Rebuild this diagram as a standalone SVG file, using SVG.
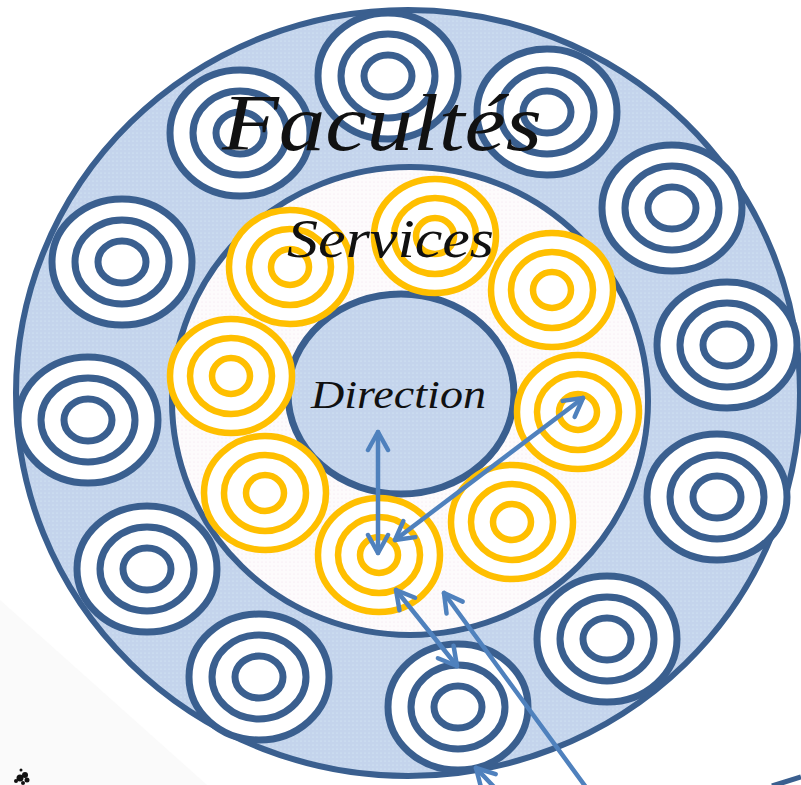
<svg xmlns="http://www.w3.org/2000/svg" xmlns:xlink="http://www.w3.org/1999/xlink" width="801" height="785" viewBox="0 0 801 785">
<defs>
<style>
.band{stroke:#3A5F8F;stroke-width:6}
.nv{fill:none;stroke:#3A5F8F;stroke-width:7}
.nvw{fill:#fff;stroke:#3A5F8F;stroke-width:7}
.yl{fill:none;stroke:#FFBF00;stroke-width:6.5}
.ylw{fill:#fff;stroke:#FFBF00;stroke-width:6.5}
.lbl{font-family:"Liberation Serif","Times New Roman",serif;font-style:italic;fill:#111}
.arr{stroke:#4F81BD;stroke-width:4.5;stroke-linecap:round;fill:none}
</style>
<pattern id="dotsBlue" width="4" height="4" patternUnits="userSpaceOnUse">
<rect width="4" height="4" fill="#C4D4EC"/>
<circle cx="1" cy="1" r="0.6" fill="#DDF0F8"/>
</pattern>
<pattern id="dotsPink" width="4" height="4" patternUnits="userSpaceOnUse">
<rect width="4" height="4" fill="#FDFBFC"/>
<circle cx="2" cy="2" r="0.5" fill="#F1DFEA"/>
</pattern>
<g id="facRings">
<ellipse class="nvw" cx="0" cy="0" rx="70" ry="63"/>
<ellipse class="nv" cx="0" cy="0" rx="47" ry="42"/>
<ellipse class="nv" cx="0" cy="0" rx="24" ry="21"/>
</g>
<g id="srvRings">
<ellipse class="ylw" cx="0" cy="0" rx="61" ry="57"/>
<ellipse class="yl" cx="0" cy="0" rx="41" ry="38"/>
<ellipse class="yl" cx="0" cy="0" rx="19" ry="18"/>
</g>
<marker id="ah" markerUnits="userSpaceOnUse" viewBox="-22 -13 26 26" refX="0" refY="0" markerWidth="26" markerHeight="26" orient="auto-start-reverse">
<path d="M-18,-10 L0,0 L-18,10" fill="none" stroke="#4F81BD" stroke-width="4.5" stroke-linecap="round" stroke-linejoin="round"/>
</marker>
</defs>
<rect width="801" height="785" fill="#fff"/>
<polygon points="0,600 207,785 0,785" fill="#FAFAFA"/>
<g id="facultes-band">
<ellipse class="band" cx="408" cy="393" rx="392" ry="383" fill="url(#dotsBlue)"/>
</g>
<g id="services-band">
<ellipse class="band" cx="410" cy="401" rx="238" ry="234" fill="url(#dotsPink)"/>
</g>
<g id="direction">
<ellipse cx="401" cy="394" rx="113" ry="100" fill="url(#dotsBlue)" stroke="#3A5F8F" stroke-width="7"/>
</g>
<g id="fac-1" transform="translate(388,76)"><use xlink:href="#facRings"/></g>
<g id="fac-2" transform="translate(547,112)"><use xlink:href="#facRings"/></g>
<g id="fac-3" transform="translate(672,208)"><use xlink:href="#facRings"/></g>
<g id="fac-4" transform="translate(727,345)"><use xlink:href="#facRings"/></g>
<g id="fac-5" transform="translate(717,497)"><use xlink:href="#facRings"/></g>
<g id="fac-6" transform="translate(607,639)"><use xlink:href="#facRings"/></g>
<g id="fac-7" transform="translate(458,707)"><use xlink:href="#facRings"/></g>
<g id="fac-8" transform="translate(259,677)"><use xlink:href="#facRings"/></g>
<g id="fac-9" transform="translate(147,569)"><use xlink:href="#facRings"/></g>
<g id="fac-10" transform="translate(88,420)"><use xlink:href="#facRings"/></g>
<g id="fac-11" transform="translate(122,262)"><use xlink:href="#facRings"/></g>
<g id="fac-12" transform="translate(240,133)"><use xlink:href="#facRings"/></g>
<g id="srv-1" transform="translate(435,236)"><use xlink:href="#srvRings"/></g>
<g id="srv-2" transform="translate(290,267)"><use xlink:href="#srvRings"/></g>
<g id="srv-3" transform="translate(552,290)"><use xlink:href="#srvRings"/></g>
<g id="srv-4" transform="translate(231,376)"><use xlink:href="#srvRings"/></g>
<g id="srv-5" transform="translate(578,412)"><use xlink:href="#srvRings"/></g>
<g id="srv-6" transform="translate(265,493)"><use xlink:href="#srvRings"/></g>
<g id="srv-7" transform="translate(379,555)"><use xlink:href="#srvRings"/></g>
<g id="srv-8" transform="translate(512,522)"><use xlink:href="#srvRings"/></g>
<rect x="522" y="765" width="279" height="20" fill="#fff"/>
<line x1="772" y1="786" x2="801" y2="777" stroke="#3A5F8F" stroke-width="5"/>
<g id="labels">
<text class="lbl" x="222" y="150" font-size="80" textLength="320" lengthAdjust="spacingAndGlyphs">Facultés</text>
<text class="lbl" x="287" y="257" font-size="54" textLength="207" lengthAdjust="spacingAndGlyphs">Services</text>
<text class="lbl" x="311" y="408" font-size="40" textLength="175" lengthAdjust="spacingAndGlyphs">Direction</text>
</g>
<g id="connectors">
<line class="arr" x1="378" y1="432" x2="378" y2="553" marker-start="url(#ah)" marker-end="url(#ah)"/>
<line class="arr" x1="395" y1="540" x2="583" y2="398" marker-start="url(#ah)" marker-end="url(#ah)"/>
<line class="arr" x1="396" y1="590" x2="457" y2="666" marker-start="url(#ah)" marker-end="url(#ah)"/>
<line class="arr" x1="588" y1="790" x2="444" y2="593" marker-end="url(#ah)"/>
<line class="arr" x1="496" y1="789" x2="476" y2="768" marker-end="url(#ah)"/>
</g>
<g id="blob" fill="#111">
<circle cx="20" cy="778" r="3.5"/>
<circle cx="25" cy="775" r="3"/>
<circle cx="27" cy="780" r="2.5"/>
<circle cx="21" cy="770" r="1.5"/>
<circle cx="16" cy="781" r="2"/>
<circle cx="23" cy="783" r="2"/>
</g>
</svg>
